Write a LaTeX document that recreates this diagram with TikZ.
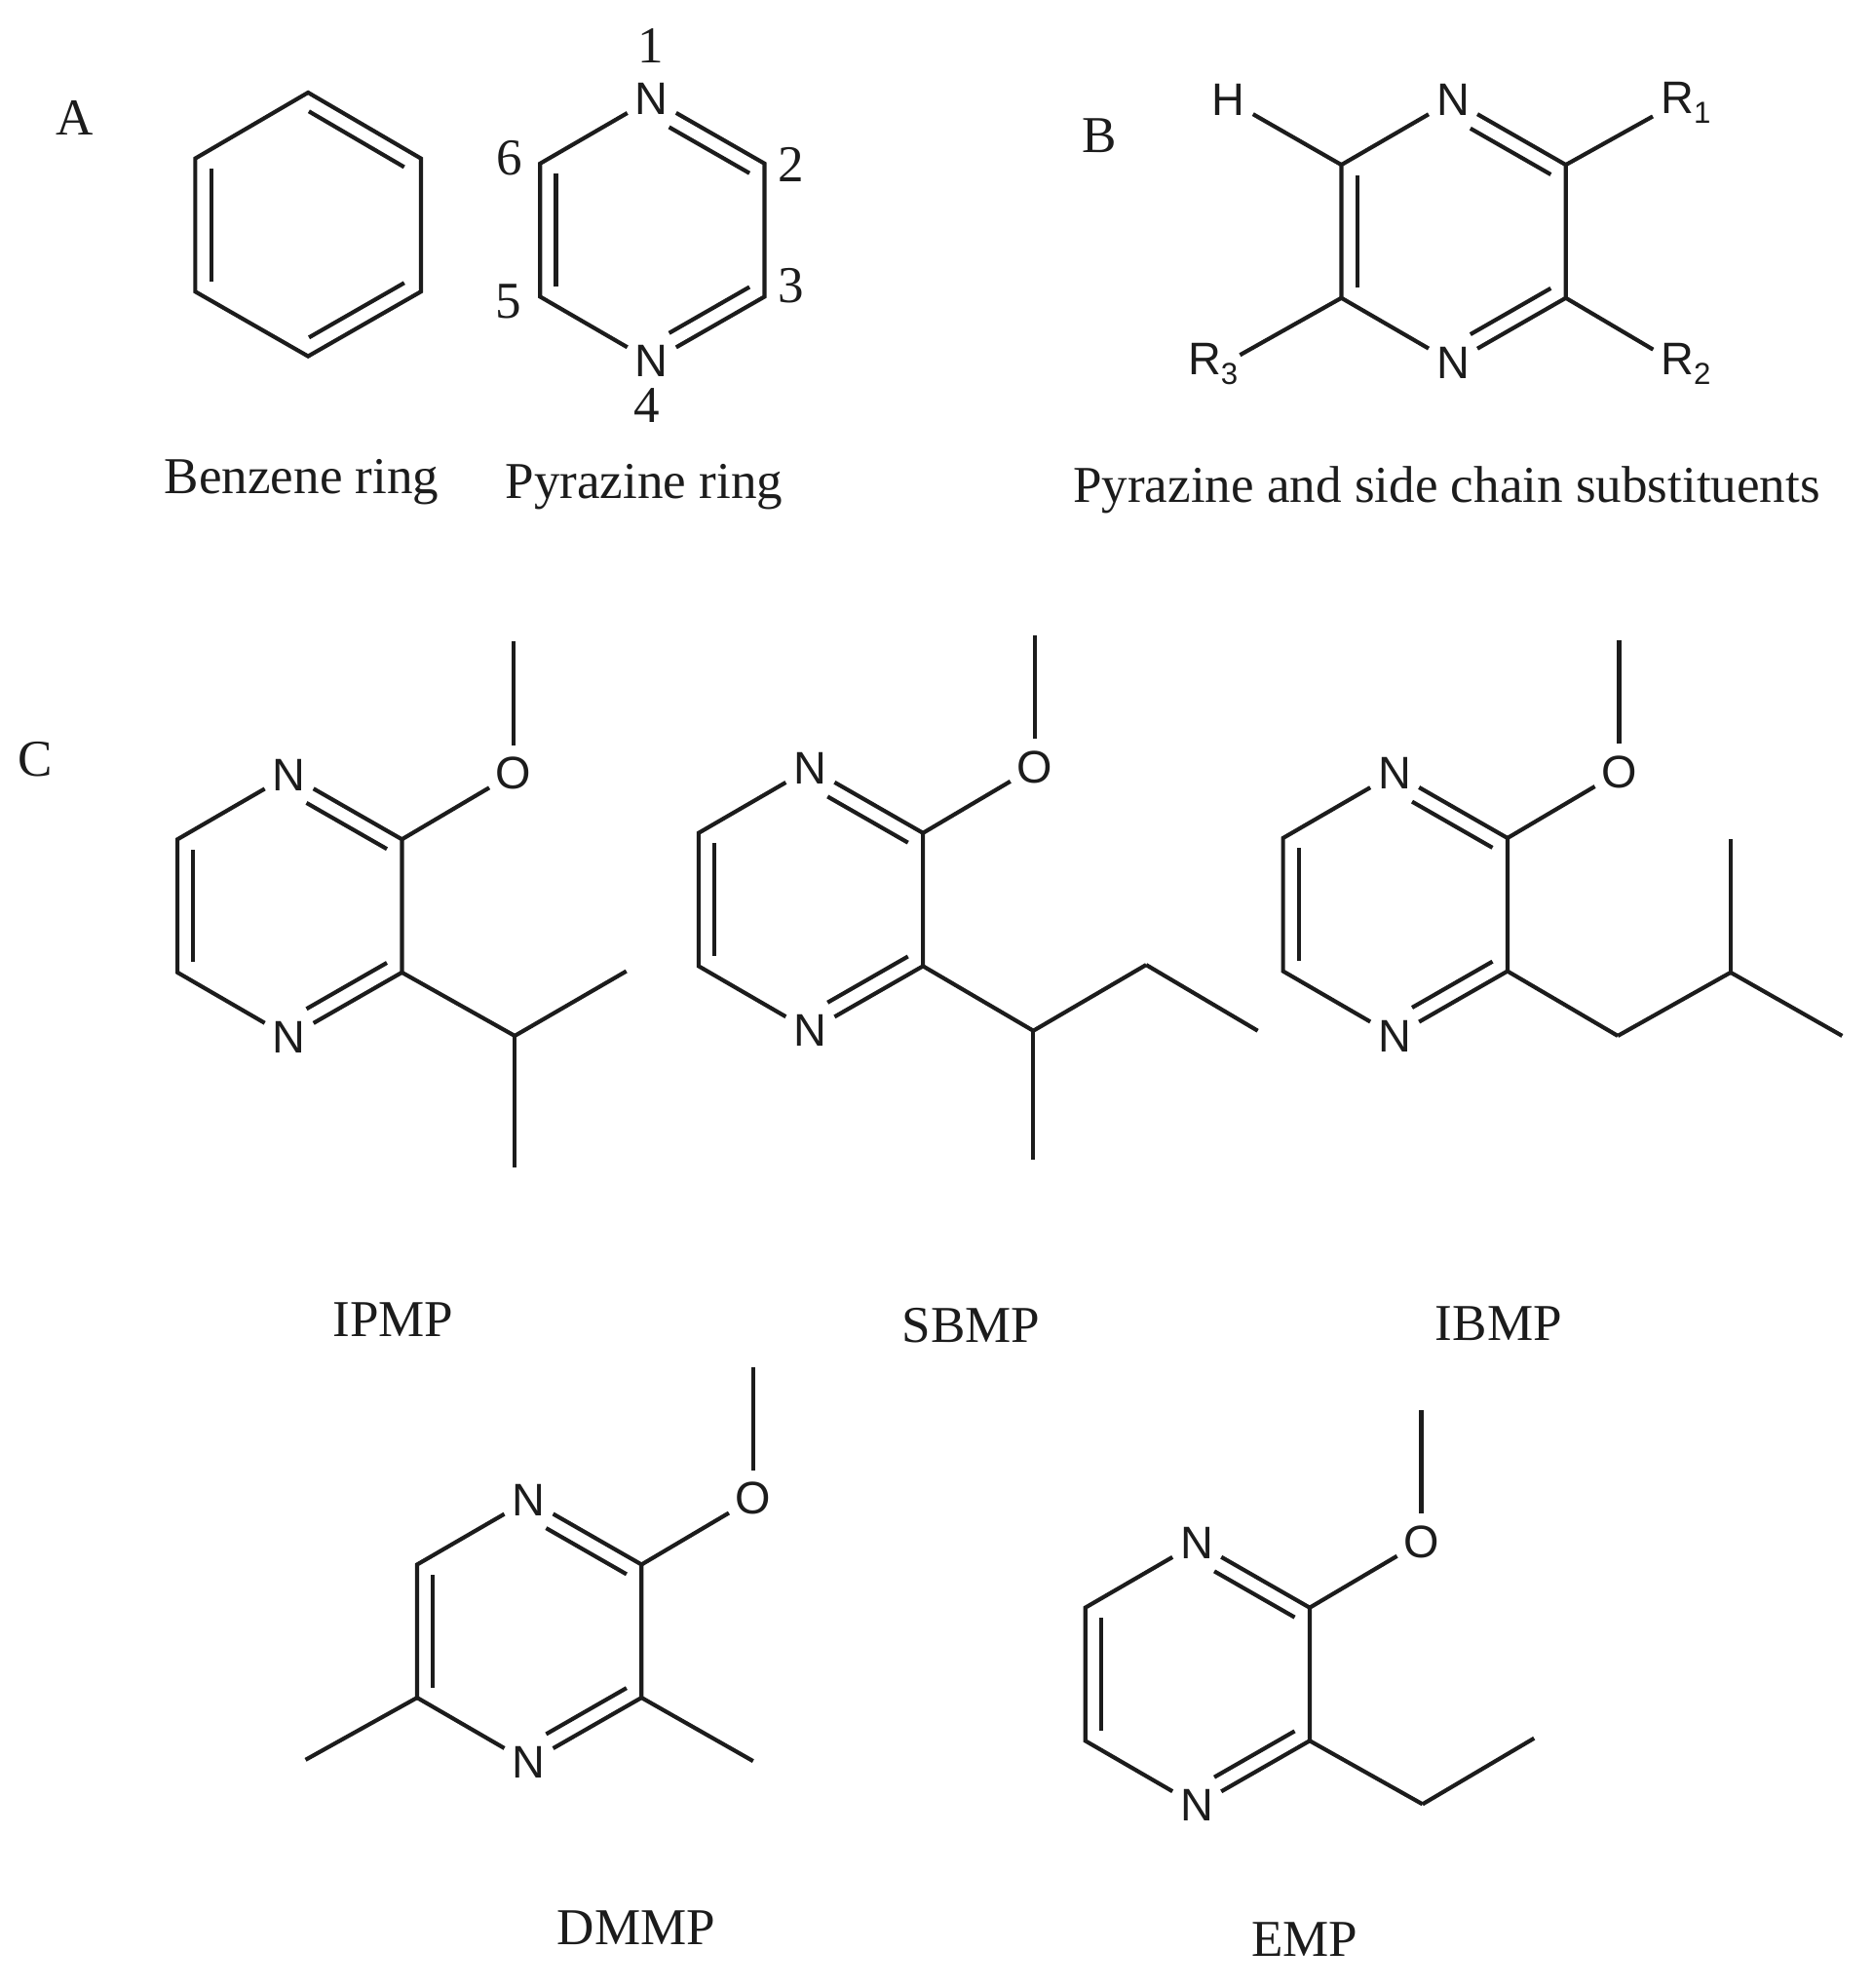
\documentclass[tikz,border=0pt]{standalone}
\usepackage{fontspec}
\setmainfont{Liberation Serif}
\setsansfont{Liberation Sans}
\usetikzlibrary{calc}
\definecolor{ink}{HTML}{1C1C1C}
\tikzset{
  bond/.style={draw=ink,line width=3.2pt,line join=miter},
  atom/.style={circle,inner sep=0pt,minimum size=44pt,text=ink,font=\sffamily\fontsize{36}{42}\selectfont},
  txt/.style={inner sep=0pt,text=ink,font=\fontsize{40.8}{48}\selectfont,text height=27pt,text depth=1pt},
  num/.style={inner sep=0pt,text=ink,font=\fontsize{40.8}{48}\selectfont}
}
\newcommand\dbl[4]{\draw[bond] ($(#1)!#3!(#2)!12.5pt!-90:(#2)$) -- ($(#2)!#4!(#1)!12.5pt!90:(#1)$);}
\newcommand\Rsub[1]{R\rlap{\raisebox{-0.22em}{\fontsize{24}{28}\selectfont #1}}}
\newcommand\pyrring[3]{%
  \begin{scope}[shift={(#2,#3)},name prefix=#1-]
    \node[atom] (n1) at (0,0) {N};
    \coordinate (c2) at (89,51);
    \coordinate (c3) at (89,156);
    \node[atom] (n4) at (0,207) {N};
    \coordinate (c5) at (-88,156);
    \coordinate (c6) at (-88,51);
    \draw[bond] (n1) -- (c2) -- (c3) -- (n4) -- (c5) -- (c6) -- (n1);
    \dbl{n1}{c2}{23pt}{6.5pt}
    \dbl{c3}{n4}{6.5pt}{23pt}
    \dbl{c5}{c6}{8pt}{8pt}
  \end{scope}}
\newcommand\pyrmol[3]{%
  \pyrring{#1}{#2}{#3}
  \begin{scope}[shift={(#2,#3)},name prefix=#1-]
    \node[atom] (o) at (177,-1) {O};
    \coordinate (me) at (177,-105);
    \draw[bond] (c2) -- (o);
    \draw[bond] (o) -- (me);
  \end{scope}}
\begin{document}
\begin{tikzpicture}[x=1pt,y=-1pt]
\useasboundingbox (0,0) rectangle (1477,1568);
% --- A ---
\node[num] (la) at (59,93) {A};
\coordinate (b1) at (243,73);
\coordinate (b2) at (332,125);
\coordinate (b3) at (332,230);
\coordinate (b4) at (243,281);
\coordinate (b5) at (154,230);
\coordinate (b6) at (154,125);
\draw[bond] (b1) -- (b2) -- (b3) -- (b4) -- (b5) -- (b6) -- cycle;
\dbl{b1}{b2}{8pt}{8pt}
\dbl{b3}{b4}{8pt}{8pt}
\dbl{b5}{b6}{8pt}{8pt}
\pyrring{pa}{514}{78}
\node[num] (n1l) at (513,36) {1};
\node[num] (n2l) at (624,130) {2};
\node[num] (n3l) at (624,225) {3};
\node[num] (n4l) at (510,320) {4};
\node[num] (n5l) at (401,238) {5};
\node[num] (n6l) at (402,125) {6};
\node[txt] (capb) at (238,376) {Benzene ring};
\node[txt] (capp) at (508,380) {Pyrazine ring};
% --- B ---
\node[num] (lb) at (867,107) {B};
\pyrring{pb}{1146}{79}
\node[atom] (h) at (969,79) {H};
\node[atom] (r1) at (1323,81) {\Rsub{1}};
\node[atom] (r2) at (1323,287) {\Rsub{2}};
\node[atom,anchor=center] (r3) at (950,287) {\Rsub{3}};
\coordinate (r3b) at (978,280);
\draw[bond] (pb-c6) -- (h);
\draw[bond] (pb-c2) -- (r1);
\draw[bond] (pb-c3) -- (r2);
\draw[bond] (pb-c5) -- (r3b);
\node[txt] (capc) at (1141,383) {Pyrazine and side chain substituents};
% --- C ---
\node[num] (lc) at (28,599) {C};
% IPMP
\pyrmol{ip}{228}{611}
\coordinate (ipa) at (406,817);
\coordinate (ipb) at (494,766);
\coordinate (ipc) at (406,921);
\draw[bond] (ip-c3) -- (ipa);
\draw[bond] (ipa) -- (ipb);
\draw[bond] (ipa) -- (ipc);
\node[txt] (ipl) at (310,1041) {IPMP};
% SBMP
\pyrmol{sb}{639}{606}
\coordinate (sba) at (815,813);
\coordinate (sbb) at (904,761);
\coordinate (sbc) at (992,813);
\coordinate (sbd) at (815,915);
\draw[bond] (sb-c3) -- (sba);
\draw[bond] (sba) -- (sbb);
\draw[bond] (sbb) -- (sbc);
\draw[bond] (sba) -- (sbd);
\node[txt] (sbl) at (766,1046) {SBMP};
% IBMP
\pyrmol{ib}{1100}{610}
\coordinate (iba) at (1276,817);
\coordinate (ibb) at (1365,767);
\coordinate (ibc) at (1365,662);
\coordinate (ibd) at (1453,817);
\draw[bond] (ib-c3) -- (iba);
\draw[bond] (iba) -- (ibb);
\draw[bond] (ibb) -- (ibc);
\draw[bond] (ibb) -- (ibd);
\node[txt] (ibl) at (1182,1044) {IBMP};
% DMMP
\pyrmol{dm}{417}{1183}
\coordinate (dma) at (594,1389);
\coordinate (dmb) at (241,1388);
\draw[bond] (dm-c3) -- (dma);
\draw[bond] (dm-c5) -- (dmb);
\node[txt] (dml) at (502,1521) {DMMP};
% EMP
\pyrmol{em}{944}{1217}
\coordinate (ema) at (1122,1423);
\coordinate (emb) at (1210,1371);
\draw[bond] (em-c3) -- (ema);
\draw[bond] (ema) -- (emb);
\node[txt] (eml) at (1029,1530) {EMP};
\end{tikzpicture}
\end{document}
